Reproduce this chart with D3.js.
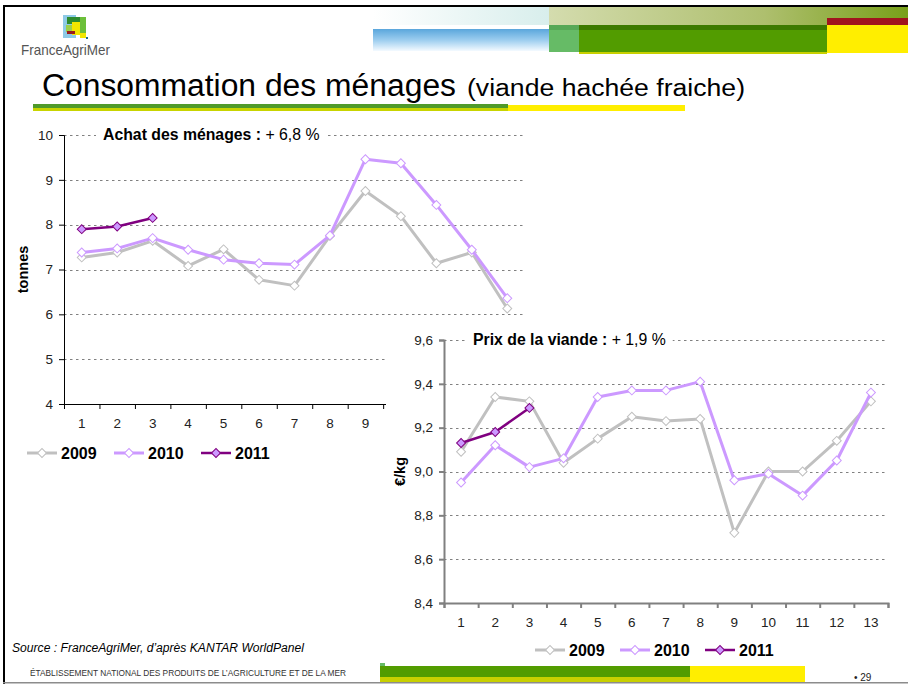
<!DOCTYPE html>
<html>
<head>
<meta charset="utf-8">
<script src="https://d3js.org/d3.v7.min.js"></script>
<style>
  html, body { margin: 0; padding: 0; background: #fff; }
  svg { display: block; }
  text { font-family: "Liberation Sans", Arial, sans-serif; }
</style>
</head>
<body>
<script>
  // months (périodes 4 semaines)
  var months = [1, 2, 3, 4, 5, 6, 7, 8, 9, 10, 11, 12, 13];
  var years = ['2009', '2010', '2011'];

  // achats des ménages (tonnes)
  var achat2009 = [7.27, 7.38, 7.64, 7.08, 7.45, 6.77, 6.64, 7.75, 8.75, 8.19, 7.14, 7.38, 6.13];
  var achat2010 = [7.38, 7.47, 7.70, 7.44, 7.22, 7.14, 7.11, 7.76, 9.46, 9.37, 8.44, 7.44, 6.36];
  var achat2011 = [7.90, 7.96, 8.15];
  var achatTicks = [4, 5, 6, 7, 8, 9, 10];

  // prix de la viande (€/kg)
  var prix2009 = [9.09, 9.34, 9.32, 9.04, 9.15, 9.25, 9.23, 9.24, 8.72, 9.00, 9.00, 9.14, 9.32];
  var prix2010 = [8.95, 9.12, 9.02, 9.06, 9.34, 9.37, 9.37, 9.41, 8.96, 8.99, 8.89, 9.05, 9.36];
  var prix2011 = [9.13, 9.18, 9.29];
  var prixTicks = [8.4, 8.6, 8.8, 9.0, 9.2, 9.4, 9.6];

  var lineColor = { '2009': '#c0c0c0', '2010': '#cc99ff', '2011': '#800080' };
  var markFill = { '2009': '#ffffff', '2010': '#ffffff', '2011': '#cc99ff' };
  var lineWidth = { '2009': 3, '2010': 3, '2011': 2.5 };

  var W = 908, H = 684;
  var svg = d3.select('body').append('svg').attr('width', W).attr('height', H);
  var defs = svg.append('defs');

  function grad(id, x2, y2, stops) {
    var g = defs.append('linearGradient').attr('id', id)
      .attr('x1', 0).attr('y1', 0).attr('x2', x2).attr('y2', y2);
    stops.forEach(function (s) {
      g.append('stop').attr('offset', s[0]).attr('stop-color', s[1]);
    });
  }
  grad('gPaleCyan', 1, 0, [[0, '#ffffff'], [1, '#d8eeec']]);
  grad('gPaleGreen', 1, 0, [[0, '#d4dcae'], [0.6, '#aebf6e'], [1, '#78a01a']]);
  grad('gBlue', 0, 1, [[0, '#5aa6dc'], [0.5, '#9ccdef'], [1, '#f4faff']]);

  function rect(x, y, w, h, fill) {
    svg.append('rect').attr('x', x).attr('y', y).attr('width', w).attr('height', h).attr('fill', fill);
  }

  // ---- header ----
  rect(373, 7, 176, 18, 'url(#gPaleCyan)');
  rect(373, 29, 176, 22, 'url(#gBlue)');
  rect(549, 7, 359, 18, 'url(#gPaleGreen)');
  rect(549, 25, 30, 27, '#66bb66');
  rect(549, 25, 30, 5, '#57a857');
  rect(579, 25, 248, 29, '#c8d000');
  rect(579, 25, 248, 27, '#529c00');
  rect(579, 25, 248, 5, '#3d7a00');
  rect(827, 18, 81, 7, '#a0141e');
  rect(827, 25, 81, 28, '#ffee00');

  // logo
  rect(63, 15, 13, 23, '#8ecae6');
  rect(67, 17, 14, 7, '#2e8b2e');
  rect(72, 22, 9, 13, '#f2e600');
  rect(80, 17, 6, 16, '#6cbf3a');
  rect(66, 25, 6, 7, '#9ccf4a');
  rect(67, 31, 8, 3, '#9b1b1b');
  rect(80, 33, 6, 5, '#f2e600');
  rect(86, 37, 2, 2, '#1f6f8f');

  svg.append('text').attr('x', 21).attr('y', 55)
    .attr('textLength', 89).attr('lengthAdjust', 'spacingAndGlyphs')
    .style('font-size', '15px').style('fill', '#555').text('FranceAgriMer');

  svg.append('text').attr('x', 42).attr('y', 96)
    .attr('textLength', 414).attr('lengthAdjust', 'spacingAndGlyphs')
    .style('font-size', '31px').text('Consommation des ménages');
  svg.append('text').attr('x', 467).attr('y', 96)
    .attr('textLength', 278).attr('lengthAdjust', 'spacingAndGlyphs')
    .style('font-size', '23px').text('(viande hachée fraiche)');

  rect(33, 104, 475, 4, '#4f9a2a');
  rect(33, 108, 475, 3, '#c8d400');
  rect(508, 105, 177, 6, '#ffee00');

  // frame
  rect(3, 5, 905, 2, '#000');
  rect(3, 5, 2, 679, '#000');
  rect(3, 682, 905, 1.5, '#8c8c8c');

  // ---- chart helper ----
  function drawChart(opt) {
    var g = svg.append('g');
    if (opt.bg) {
      g.append('rect').attr('x', opt.bg[0]).attr('y', opt.bg[1])
        .attr('width', opt.bg[2]).attr('height', opt.bg[3]).attr('fill', '#fff');
    }
    var x = d3.scaleBand().domain(months).range([opt.left, opt.right]);
    var xb = d3.scaleLinear().domain([0, months.length]).range([opt.left, opt.right]);
    var y = d3.scaleLinear().domain(opt.domain).range([opt.bottom, opt.top]);
    var cx = function (i) { return x(months[i]) + x.bandwidth() / 2; };

    // gridlines
    g.selectAll('.grid').data(opt.ticks.slice(1)).enter().append('line')
      .attr('x1', opt.left).attr('x2', opt.right)
      .attr('y1', function (d) { return Math.round(y(d)) + 0.5; })
      .attr('y2', function (d) { return Math.round(y(d)) + 0.5; })
      .attr('stroke', '#808080').attr('stroke-width', 1).attr('stroke-dasharray', '2.5,3.5');

    // y axis
    var ya = g.append('g').attr('transform', 'translate(' + opt.left + ',0)')
      .call(d3.axisLeft(y).tickValues(opt.ticks).tickSize(5).tickPadding(6).tickFormat(opt.fmt));
    ya.selectAll('path, line').attr('stroke', opt.axisColor).attr('stroke-width', opt.axisWidth);
    ya.selectAll('text').style('font-size', '13.5px').style('fill', '#222')
      .style('font-family', '"Liberation Sans", Arial, sans-serif');

    // x axis ticks at band edges
    var xa = g.append('g').attr('transform', 'translate(0,' + opt.bottom + ')')
      .call(d3.axisBottom(xb).tickValues(d3.range(months.length + 1)).tickSize(5).tickFormat(''));
    xa.selectAll('path, line').attr('stroke', opt.axisColor).attr('stroke-width', opt.axisWidth);
    var xl = g.append('g').attr('transform', 'translate(0,' + opt.bottom + ')')
      .call(d3.axisBottom(x).tickSize(0).tickPadding(14));
    xl.select('.domain').remove();
    xl.selectAll('text').style('font-size', '13.5px').style('fill', '#222')
      .style('font-family', '"Liberation Sans", Arial, sans-serif');
    // labels hidden behind the price chart panel are not drawn
    if (opt.hideFrom) {
      xl.selectAll('.tick').filter(function (d) { return x(d) > opt.hideFrom; }).remove();
    }

    // title with white backing
    var tg = g.append('g');
    var tt = tg.append('text').attr('x', opt.titleX).attr('y', opt.titleY).style('font-size', '15.8px').style('fill', '#000');
    tt.append('tspan').style('font-weight', 'bold').text(opt.titleBold);
    tt.append('tspan').text(opt.titleRest);
    var bb = tt.node().getBBox();
    tg.insert('rect', 'text').attr('x', bb.x - 7).attr('y', opt.top - 3)
      .attr('width', bb.width + 14).attr('height', 6).attr('fill', '#fff');

    // axis title
    g.append('text')
      .attr('transform', 'translate(' + opt.labelX + ',' + ((opt.top + opt.bottom) / 2) + ') rotate(-90)')
      .attr('text-anchor', 'middle').style('font-size', '14.5px').style('font-weight', 'bold')
      .text(opt.label);

    // series
    var line = d3.line().x(function (d, i) { return cx(i); }).y(function (d) { return y(d); });
    opt.series.forEach(function (s, k) {
      var yr = years[k];
      g.append('path').datum(s).attr('d', line).attr('fill', 'none')
        .attr('stroke', lineColor[yr]).attr('stroke-width', lineWidth[yr])
        .attr('stroke-linejoin', 'round');
      g.selectAll('.m' + yr).data(s).enter().append('path')
        .attr('d', d3.symbol(d3.symbolSquare).size(40)())
        .attr('transform', function (d, i) { return 'translate(' + cx(i) + ',' + y(d) + ') rotate(45)'; })
        .attr('fill', markFill[yr]).attr('stroke', yr === '2011' ? '#800080' : lineColor[yr]).attr('stroke-width', 1);
    });

    // legend
    var lg = g.append('g').attr('transform', 'translate(' + opt.legX + ',' + opt.legY + ')');
    years.forEach(function (yr, k) {
      var item = lg.append('g').attr('transform', 'translate(' + (k * opt.legStep) + ',0)');
      item.append('line').attr('x1', 0).attr('x2', 30).attr('y1', 0).attr('y2', 0)
        .attr('stroke', lineColor[yr]).attr('stroke-width', lineWidth[yr]);
      item.append('path').attr('d', d3.symbol(d3.symbolSquare).size(40)())
        .attr('transform', 'translate(15,0) rotate(45)')
        .attr('fill', markFill[yr]).attr('stroke', yr === '2011' ? '#800080' : lineColor[yr]);
      item.append('text').attr('x', 34).attr('y', 5.5).style('font-size', '16px')
        .style('font-weight', 'bold').text(yr);
    });
  }

  drawChart({
    left: 64, right: 525, top: 135, bottom: 404,
    domain: [4, 10], ticks: achatTicks,
    fmt: function (d) { return String(d); },
    axisColor: '#000', axisWidth: 1,
    titleX: 103, titleY: 140, titleBold: 'Achat des ménages : ', titleRest: '+ 6,8 %',
    label: 'tonnes', labelX: 28,
    series: [achat2009, achat2010, achat2011],
    legX: 27, legY: 453, legStep: 87,
    hideFrom: 386
  });

  drawChart({
    bg: [386, 322, 522, 338],
    left: 444, right: 888, top: 340, bottom: 603,
    domain: [8.4, 9.6], ticks: prixTicks,
    fmt: function (d) { return d.toFixed(1).replace('.', ','); },
    axisColor: '#808080', axisWidth: 2,
    titleX: 473, titleY: 345, titleBold: 'Prix de la viande : ', titleRest: '+ 1,9 %',
    label: '€/kg', labelX: 405,
    series: [prix2009, prix2010, prix2011],
    legX: 535, legY: 650, legStep: 85
  });

  // ---- footer ----
  svg.append('text').attr('x', 12).attr('y', 652)
    .attr('textLength', 292).attr('lengthAdjust', 'spacingAndGlyphs')
    .style('font-size', '12px').style('font-style', 'italic')
    .text('Source : FranceAgriMer, d\u2019après KANTAR WorldPanel');

  svg.append('text').attr('x', 30).attr('y', 676)
    .attr('textLength', 316).attr('lengthAdjust', 'spacingAndGlyphs')
    .style('font-size', '9px').style('fill', '#333')
    .text('ÉTABLISSEMENT NATIONAL DES PRODUITS DE L\u2019AGRICULTURE ET DE LA MER');

  rect(380, 663, 5, 3, '#66bb66');
  rect(380, 666, 310, 11, '#529c00');
  rect(380, 677, 310, 5, '#c8d000');
  rect(690, 666, 115, 16, '#ffee00');

  svg.append('text').attr('x', 854).attr('y', 681).style('font-size', '10px').style('fill', '#222').text('\u2022 29');
</script>
</body>
</html>
